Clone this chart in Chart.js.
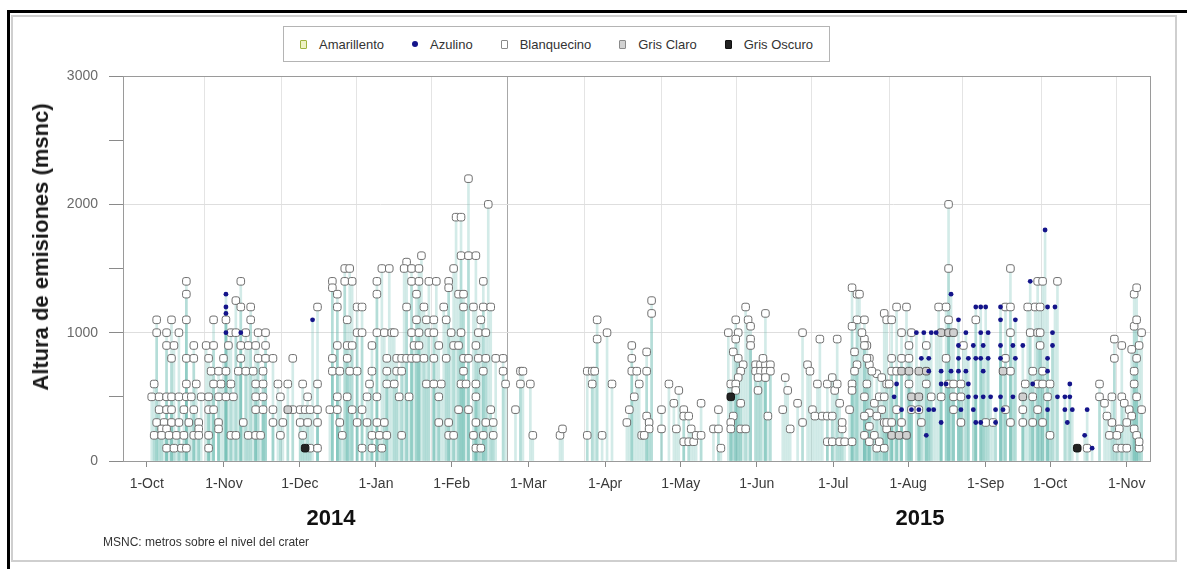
<!DOCTYPE html>
<html>
<head>
<meta charset="utf-8">
<script src="https://cdn.jsdelivr.net/npm/chart.js@4.4.1/dist/chart.umd.min.js"></script>
<style>
  html, body { margin: 0; padding: 0; background: #fff; }
  #wrap { position: relative; width: 1187px; height: 569px; overflow: hidden; font-family: "Liberation Sans", Arial, sans-serif; }
  #outerFrame { position: absolute; left: 7px; top: 10px; width: 1300px; height: 700px; border-left: 3px solid #000; border-top: 3px solid #000; }
  #innerFrame { position: absolute; left: 11px; top: 15px; width: 1162px; height: 543px; border: 2px solid #cfcfcf; }
  #chart { position: absolute; left: 0; top: 0; }
  #yTitle { position: absolute; left: 41px; top: 247px; transform: translate(-50%, -50%) rotate(-90deg); white-space: nowrap; font-weight: bold; font-size: 22px; color: #1a1a1a; }
  #legend { position: absolute; left: 283px; top: 26px; height: 36px; border: 1px solid #b4b4b4; display: flex; align-items: center; padding: 0 16px; box-sizing: border-box; background: #fff; }
  .item { display: flex; align-items: center; font-size: 13px; color: #333; margin-right: 28px; }
  .item:last-child { margin-right: 0; }
  .mk { display: inline-block; margin-right: 12px; box-sizing: border-box; }
  .sq { width: 7px; height: 9px; border-radius: 1px; }
  .dot { width: 6px; height: 6px; border-radius: 50%; background: #14148a; }
  .year { position: absolute; top: 505px; font-weight: bold; font-size: 22px; color: #111; transform: translateX(-50%); }
  #note { position: absolute; left: 103px; top: 535px; font-size: 12px; color: #333; }
</style>
</head>
<body>
<div id="wrap">
  <div id="outerFrame"></div>
  <div id="innerFrame"></div>
  <canvas id="chart" width="1187" height="569"></canvas>
  <div id="yTitle">Altura de emisiones (msnc)</div>
  <div id="legend">
    <div class="item"><span class="mk sq" style="background:#eef2c4;border:1px solid #9fb23e"></span>Amarillento</div>
    <div class="item"><span class="mk dot"></span>Azulino</div>
    <div class="item"><span class="mk sq" style="background:#fff;border:1px solid #8a8a8a"></span>Blanquecino</div>
    <div class="item"><span class="mk sq" style="background:#d2d2d2;border:1px solid #8a8a8a"></span>Gris Claro</div>
    <div class="item"><span class="mk sq" style="background:#222;border:1px solid #111"></span>Gris Oscuro</div>
  </div>
  <div class="year" style="left:331px">2014</div>
  <div class="year" style="left:920px">2015</div>
  <div id="note">MSNC: metros sobre el nivel del crater</div>
</div>
<script>
// x values are days counted from 1-Oct-2014; y values are heights in metres above the crater.
const monthLabels = ['1-Oct', '1-Nov', '1-Dec', '1-Jan', '1-Feb', '1-Mar', '1-Apr', '1-May', '1-Jun', '1-Jul', '1-Aug', '1-Sep', '1-Oct', '1-Nov'];
const monthTickPos = [0, 31.2, 61.9, 92.6, 123.2, 154.2, 185.2, 215.8, 246.5, 277.4, 307.7, 339, 365, 396];
const gridPos = [23.4, 54.5, 84.8, 115.1, 145.8, 176.9, 208, 238.3, 268.6, 300.1, 329.6, 361.5, 391.8];
const yTicks = [0, 500, 1000, 1500, 2000, 2500, 3000];

const amarillento = [];

const azulino = [
  [32, 1300], [32, 1200], [32, 1150], [32, 1000], [38, 1000], [67, 1100],
  [325, 1300], [357, 1400], [363, 1800],
  [335, 1200], [337, 1200], [339, 1200], [345, 1200], [364, 1200], [367, 1200],
  [328, 1100], [345, 1100], [351, 1100],
  [311, 1000], [314, 1000], [317, 1000], [319, 1000], [331, 1000], [337, 1000], [340, 1000], [366, 1000],
  [328, 900], [334, 900], [338, 900], [345, 900], [350, 900], [354, 900], [366, 900],
  [313, 800], [316, 800], [328, 800], [332, 800], [335, 800], [337, 800], [340, 800], [345, 800], [351, 800], [364, 800],
  [316, 700], [321, 700], [325, 700], [328, 700], [331, 700], [338, 700], [364, 700],
  [303, 600], [321, 600], [323, 600], [332, 600], [358, 600], [373, 600],
  [302, 500], [332, 500], [335, 500], [338, 500], [341, 500], [345, 500], [350, 500], [368, 500], [371, 500], [373, 500],
  [305, 400], [309, 400], [312, 400], [316, 400], [318, 400], [329, 400], [334, 400], [343, 400], [346, 400], [364, 400], [371, 400], [374, 400], [380, 400],
  [321, 300], [335, 300], [337, 300], [343, 300], [372, 300],
  [315, 200], [379, 200], [382, 100]
];

const grisClaro = [
  [57, 400],
  [321, 1000], [324, 1000], [326, 1000],
  [305, 700], [308, 700], [312, 700], [315, 700], [346, 700],
  [309, 500], [312, 500], [354, 500],
  [301, 200], [304, 200], [307, 200]
];

const grisOscuro = [[64, 100], [236, 500], [376, 100]];

const blanquecino = [
  // Oct 2014 - Feb 2015
  [130, 2200], [125, 1900], [127, 1900], [138, 2000],
  [111, 1600], [127, 1600], [130, 1600], [133, 1600], [105, 1550],
  [80, 1500], [82, 1500], [95, 1500], [98, 1500], [104, 1500], [107, 1500], [110, 1500], [124, 1500],
  [16, 1400], [38, 1400], [75, 1400], [80, 1400], [83, 1400], [93, 1400], [107, 1400], [110, 1400], [114, 1400], [117, 1400], [122, 1400], [136, 1400],
  [75, 1350], [122, 1350],
  [16, 1300], [77, 1300], [93, 1300], [109, 1300], [126, 1300], [128, 1300], [36, 1250],
  [38, 1200], [42, 1200], [69, 1200], [77, 1200], [85, 1200], [87, 1200], [105, 1200], [112, 1200], [120, 1200], [128, 1200], [132, 1200], [136, 1200],
  [4, 1100], [10, 1100], [16, 1100], [27, 1100], [32, 1100], [42, 1100], [81, 1100], [109, 1100], [113, 1100], [116, 1100], [121, 1100], [135, 1100],
  [4, 1000], [8, 1000], [13, 1000], [34, 1000], [36, 1000], [40, 1000], [45, 1000], [48, 1000], [85, 1000], [87, 1000], [93, 1000], [96, 1000],
  [99, 1000], [100, 1000], [107, 1000], [110, 1000], [114, 1000], [116, 1000], [123, 1000], [127, 1000], [134, 1000], [137, 1000],
  [8, 900], [11, 900], [19, 900], [24, 900], [27, 900], [33, 900], [38, 900], [41, 900], [44, 900], [48, 900], [77, 900], [81, 900],
  [83, 900], [91, 900], [108, 900], [110, 900], [118, 900], [124, 900], [126, 900], [133, 900],
  [10, 800], [16, 800], [19, 800], [25, 800], [31, 800], [38, 800], [45, 800], [48, 800], [51, 800], [59, 800], [75, 800], [81, 800], [97, 800],
  [101, 800], [103, 800], [105, 800], [107, 800], [109, 800], [112, 800], [116, 800], [121, 800], [128, 800], [130, 800], [134, 800], [137, 800], [141, 800],
  [26, 700], [29, 700], [32, 700], [37, 700], [40, 700], [43, 700], [47, 700], [75, 700], [78, 700], [82, 700], [85, 700], [91, 700], [97, 700],
  [101, 700], [103, 700], [128, 700], [136, 700],
  [3, 600], [16, 600], [20, 600], [27, 600], [30, 600], [34, 600], [44, 600], [47, 600], [53, 600], [57, 600], [63, 600], [69, 600], [90, 600],
  [97, 600], [100, 600], [113, 600], [116, 600], [119, 600], [127, 600], [129, 600], [133, 600],
  [2, 500], [5, 500], [8, 500], [10, 500], [13, 500], [16, 500], [18, 500], [22, 500], [25, 500], [29, 500], [32, 500], [35, 500], [44, 500],
  [47, 500], [54, 500], [65, 500], [77, 500], [81, 500], [89, 500], [93, 500], [102, 500], [106, 500], [118, 500], [133, 500],
  [5, 400], [8, 400], [10, 400], [15, 400], [19, 400], [25, 400], [27, 400], [44, 400], [47, 400], [51, 400], [59, 400], [62, 400], [64, 400],
  [66, 400], [69, 400], [74, 400], [77, 400], [83, 400], [87, 400], [126, 400], [130, 400], [139, 400],
  [4, 300], [7, 300], [10, 300], [13, 300], [17, 300], [21, 300], [29, 300], [39, 300], [51, 300], [55, 300], [62, 300], [65, 300], [69, 300],
  [78, 300], [85, 300], [89, 300], [93, 300], [96, 300], [118, 300], [122, 300], [133, 300], [137, 300],
  [6, 250], [8, 250], [21, 250], [29, 250],
  [3, 200], [6, 200], [9, 200], [12, 200], [15, 200], [19, 200], [21, 200], [25, 200], [34, 200], [36, 200], [41, 200], [44, 200], [46, 200],
  [54, 200], [63, 200], [79, 200], [91, 200], [94, 200], [97, 200], [103, 200], [122, 200], [124, 200], [132, 200], [136, 200],
  [8, 100], [11, 100], [14, 100], [16, 100], [25, 100], [66, 100], [69, 100], [87, 100], [91, 100], [95, 100], [133, 100], [135, 100],
  // Feb - Jul 2015
  [139, 1200], [144, 800], [144, 700], [151, 700], [152, 700], [145, 600], [151, 600], [155, 600], [149, 400], [140, 300],
  [140, 200], [156, 200], [167, 200], [168, 250],
  [182, 1100], [182, 950], [186, 1000], [178, 700], [180, 700], [181, 700], [180, 600], [188, 600], [178, 200], [184, 200],
  [196, 900], [196, 800], [196, 700], [198, 700], [199, 600], [197, 500], [195, 400], [194, 300], [202, 850], [202, 700],
  [204, 1250], [204, 1150], [202, 350], [203, 300], [203, 250], [200, 200], [201, 200],
  [208, 250], [208, 400], [211, 600], [213, 450], [214, 250], [215, 550], [217, 400], [217, 350], [219, 350], [217, 150],
  [219, 150], [221, 150], [220, 250], [222, 200], [224, 200], [224, 450],
  [229, 250], [231, 250], [231, 400], [232, 100],
  [235, 1000], [239, 1000], [238, 1100], [242, 1200], [243, 1100], [244, 1050], [244, 950], [244, 900], [238, 950], [237, 850],
  [239, 800], [241, 750], [240, 700], [239, 650], [236, 600], [238, 600], [238, 550], [240, 450], [237, 350], [236, 300],
  [236, 250], [240, 250], [242, 250],
  [246, 750], [248, 750], [250, 750], [252, 750], [246, 700], [248, 700], [250, 700], [252, 700], [247, 650], [250, 650],
  [250, 1150], [249, 800], [247, 550], [251, 350],
  [258, 650], [259, 550], [257, 400], [260, 250],
  [263, 450], [265, 300], [265, 1000], [267, 750], [268, 700], [269, 400], [271, 600], [272, 950], [270, 350], [273, 350],
  [275, 350], [277, 350], [275, 600], [277, 650], [278, 550], [279, 600], [279, 950], [280, 450],
  [275, 150], [277, 150], [280, 150], [282, 150], [285, 150], [281, 250], [281, 300], [284, 400],
  [285, 1350], [287, 1300], [287, 1100], [285, 1050], [286, 850], [287, 750], [286, 700], [285, 600], [285, 550],
  [290, 950], [291, 900], [292, 800], [292, 750], [291, 600], [290, 500], [292, 375], [290, 350], [292, 270], [290, 200],
  [292, 150], [295, 100], [294, 450], [295, 680],
  // Jul - Nov 2015
  [296, 500], [297, 400], [298, 300], [295, 350], [299, 250], [294, 200], [296, 150], [298, 100], [289, 1000], [290, 1100],
  [290, 900], [291, 800], [293, 700], [297, 650], [299, 600],
  [324, 2000], [324, 1500], [349, 1500], [288, 1300], [399, 1300], [400, 1350],
  [360, 1400], [362, 1400], [368, 1400],
  [303, 1200], [307, 1200], [320, 1200], [323, 1200], [347, 1200], [349, 1200], [356, 1200], [359, 1200], [361, 1200],
  [298, 1150], [299, 1100], [301, 1100], [324, 1100], [335, 1100], [399, 1050], [400, 1100],
  [305, 1000], [309, 1000], [349, 1000], [357, 1000], [360, 1000], [361, 1000],
  [391, 950], [394, 900], [398, 870],
  [308, 900], [315, 900], [330, 900], [361, 900],
  [301, 800], [305, 800], [308, 800], [323, 800], [347, 800], [391, 800],
  [301, 700], [303, 700], [349, 700], [358, 700], [362, 700],
  [300, 600], [308, 600], [315, 600], [324, 600], [326, 600], [329, 600], [355, 600], [360, 600], [362, 600], [365, 600], [385, 600],
  [298, 500], [317, 500], [321, 500], [326, 500], [329, 500], [358, 500], [364, 500], [385, 500], [390, 500], [394, 500],
  [303, 400], [309, 400], [312, 400], [326, 400], [347, 400], [354, 400], [360, 400],
  [299, 300], [301, 300], [305, 300], [313, 300], [329, 300], [339, 300], [342, 300], [349, 300], [354, 300], [358, 300], [362, 300],
  [365, 200], [380, 100], [392, 100], [394, 100], [396, 100], [401, 100],
  [387, 450], [395, 450], [397, 400], [398, 350], [396, 300], [399, 250], [393, 250], [390, 300], [389, 200], [400, 200],
  [401, 150], [399, 700], [400, 800], [401, 900], [402, 1000], [399, 600], [400, 500], [402, 400], [388, 350], [392, 200]
];

const toXY = arr => arr.map(([x, y]) => ({ x, y }));
// Every observation also gets a thin stem from the axis up to its height.
const stems = toXY([...blanquecino, ...grisClaro, ...grisOscuro, ...azulino, ...amarillento]);

const plotFrame = {
  id: 'plotFrame',
  beforeDatasetsDraw(chart) {
    const { ctx, chartArea: a } = chart;
    ctx.save();
    ctx.strokeStyle = '#9a9a9a';
    ctx.lineWidth = 1;
    ctx.strokeRect(Math.round(a.left) + 0.5, Math.round(a.top) + 0.5, Math.round(a.right - a.left), Math.round(a.bottom - a.top));
    ctx.restore();
  }
};

const squareStyle = { pointStyle: 'rectRounded', pointRadius: 4.4, pointBorderWidth: 1 };

new Chart(document.getElementById('chart'), {
  type: 'scatter',
  data: {
    datasets: [
      { type: 'bar', label: 'stems', data: stems, backgroundColor: 'rgba(110,190,180,0.30)', barThickness: 2, grouped: false, order: 10 },
      { label: 'Blanquecino', data: toXY(blanquecino), ...squareStyle, backgroundColor: '#ffffff', borderColor: '#6f6f6f', order: 5 },
      { label: 'Amarillento', data: toXY(amarillento), ...squareStyle, backgroundColor: '#eef2c4', borderColor: '#9fb23e', order: 4 },
      { label: 'Gris Claro', data: toXY(grisClaro), ...squareStyle, backgroundColor: '#d0d0d0', borderColor: '#5a5a5a', order: 3 },
      { label: 'Gris Oscuro', data: toXY(grisOscuro), ...squareStyle, backgroundColor: '#222222', borderColor: '#111111', order: 2 },
      { label: 'Azulino', data: toXY(azulino), pointStyle: 'circle', pointRadius: 2.4, pointBorderWidth: 0, backgroundColor: '#14148a', borderColor: '#14148a', order: 1 }
    ]
  },
  options: {
    responsive: false,
    animation: false,
    events: [],
    layout: { padding: { left: 0, right: 37, top: 76, bottom: 78 } },
    plugins: { legend: { display: false }, tooltip: { enabled: false } },
    scales: {
      x: {
        type: 'linear', position: 'bottom', min: -9.6, max: 405.4, offset: false,
        afterBuildTicks: s => { s.ticks = monthTickPos.map(v => ({ value: v })); },
        afterFit: s => { s.height = 30; },
        ticks: { autoSkip: false, maxRotation: 0, padding: 9, color: '#3a3a3a', font: { family: 'Liberation Sans', size: 14 },
                 callback: (v, i) => monthLabels[i] },
        grid: { drawOnChartArea: false, offset: false, tickLength: 6, tickColor: '#8a8a8a' },
        border: { color: '#8a8a8a', width: 1 }
      },
      xg: {
        type: 'linear', position: 'bottom', min: -9.6, max: 405.4, offset: false,
        afterBuildTicks: s => { s.ticks = gridPos.map(v => ({ value: v })); },
        afterFit: s => { s.height = 0; },
        ticks: { display: false },
        grid: { drawTicks: false, color: c => (c.tick && c.tick.value === 145.8) ? '#a8a8a8' : '#e4e4e4', lineWidth: 1 },
        border: { display: false }
      },
      y: {
        type: 'linear', min: 0, max: 3000,
        afterBuildTicks: s => { s.ticks = yTicks.map(v => ({ value: v })); },
        afterFit: s => { s.width = 123; },
        ticks: { padding: 11, color: '#6a6a6a', font: { family: 'Liberation Sans', size: 14 },
                 callback: v => (v % 1000 === 0 ? String(v) : '') },
        grid: { color: c => (c.tick && c.tick.value % 1000 === 0 && c.tick.value > 0 && c.tick.value < 3000) ? '#dedede' : 'rgba(0,0,0,0)',
                tickColor: '#8a8a8a', tickLength: 14 },
        border: { color: '#8a8a8a', width: 1 }
      }
    }
  },
  plugins: [plotFrame]
});
</script>
</body>
</html>
